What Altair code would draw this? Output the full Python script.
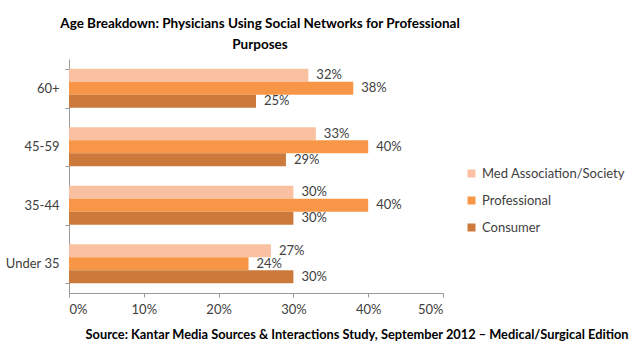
import altair as alt
import pandas as pd

ages = ["60+", "45-59", "35-44", "Under 35"]
series = ["Med Association/Society", "Professional", "Consumer"]
med = [32, 33, 30, 27]
prof = [38, 40, 40, 24]
cons = [25, 29, 30, 30]
colors = ["#FAC0A2", "#F79646", "#CB7A3C"]

rows = []
for i, a in enumerate(ages):
    for s, vals in zip(series, [med, prof, cons]):
        rows.append({"age": a, "series": s, "value": vals[i], "label": f"{vals[i]}%"})
df = pd.DataFrame(rows)

FONT = "Lato"
TXT = "#404040"

y = alt.Y("age:N", sort=ages, title=None,
          scale=alt.Scale(paddingInner=0.333, paddingOuter=0.167),
          axis=alt.Axis(tickBand="extent", labelFont=FONT, labelFontSize=13, labelColor=TXT,
                        domainColor="#999999", tickColor="#999999", tickSize=4, labelPadding=6,
                        grid=False))
yoff = alt.YOffset("series:N", sort=series)
x = alt.X("value:Q", scale=alt.Scale(domain=[0, 50]),
          title="Source: Kantar Media Sources & Interactions Study, September 2012 \u2013 Medical/Surgical Edition",
          axis=alt.Axis(values=[0, 10, 20, 30, 40, 50], labelExpr="datum.value + '%'",
                        labelFont=FONT, labelFontSize=13, labelColor=TXT, grid=False,
                        domainColor="#999999", tickColor="#999999", tickSize=4, labelPadding=6,
                        titleFont=FONT, titleFontSize=12.8, titleFontWeight="bold", titleColor="#000000",
                        titleAnchor="end", titleAlign="right", titleX=559, titleY=41, titleBaseline="middle"))

bars = alt.Chart(df).mark_bar(size=13).encode(
    y=y, yOffset=yoff, x=x,
    color=alt.Color("series:N", sort=series, scale=alt.Scale(domain=series, range=colors),
                    legend=alt.Legend(title=None, orient="none", legendX=396, legendY=108,
                                      symbolType="square", symbolSize=64, symbolStrokeWidth=0,
                                      labelFont=FONT, labelFontSize=13, labelColor=TXT,
                                      rowPadding=13, labelOffset=4)),
)
text = alt.Chart(df).mark_text(align="left", baseline="middle", dx=8, font=FONT, fontSize=13, color=TXT).encode(
    y=y, yOffset=yoff, x=x, text="label:N")

chart = (bars + text).properties(
    width=374, height=234,
    background="white",
    title=alt.Title(["Age Breakdown: Physicians Using Social Networks for Professional", "Purposes"],
                    font=FONT, fontSize=13.5, fontWeight="bold", color="#000000", anchor="middle",
                    lineHeight=21, offset=2, dx=4),
    autosize=alt.AutoSizeParams(type="none"),
    padding={"left": 69, "top": 59, "right": 197, "bottom": 59},
).configure_view(stroke=None)

chart.save("out.html", embed_options={"renderer": "svg", "actions": False})
